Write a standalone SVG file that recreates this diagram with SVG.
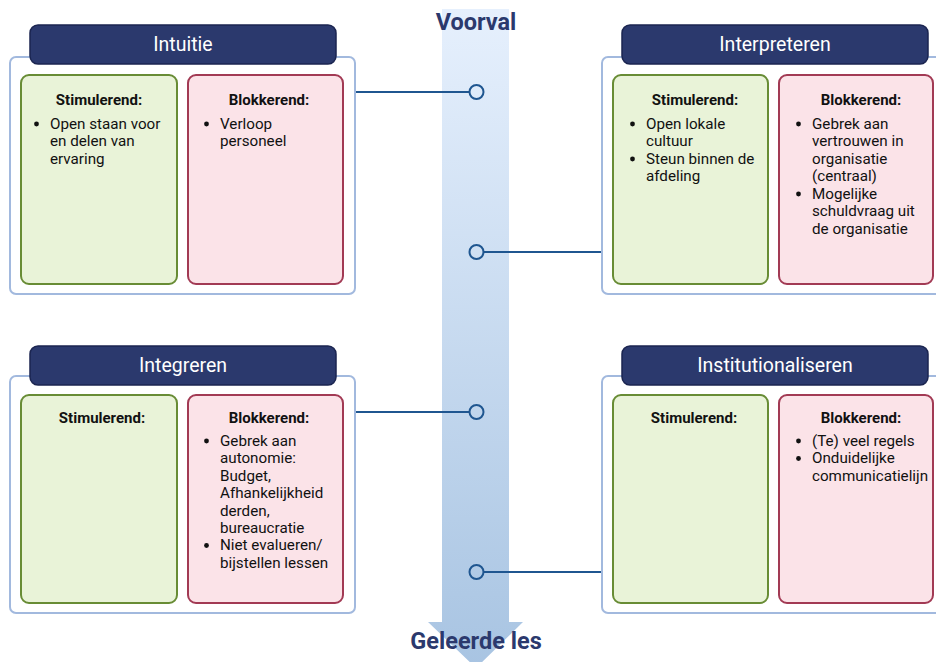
<svg xmlns="http://www.w3.org/2000/svg" width="936" height="662" viewBox="0 0 936 662">
<style>
.outer{fill:#fff;stroke:#a2b9de;stroke-width:2}
.hdr{fill:#2b396d;stroke:#1b2550;stroke-width:1.5}
.hdrt{fill:#fff;font-family:Roboto,"Liberation Sans",sans-serif;font-size:19.5px;text-anchor:middle}
.stim{fill:#e9f3d8;stroke:#688c35;stroke-width:2}
.blok{fill:#fbe3e8;stroke:#a23a54;stroke-width:2}
.h{font-family:Roboto,"Liberation Sans",sans-serif;font-size:15px;font-weight:bold;text-anchor:middle;fill:#111}
.t{font-family:Roboto,"Liberation Sans",sans-serif;font-size:15.2px;fill:#111}
.dot{fill:#111}
.big{font-family:Roboto,"Liberation Sans",sans-serif;font-size:23.5px;font-weight:bold;text-anchor:middle;fill:#2b396d}
.conn{stroke:#1f5690;stroke-width:2;fill:none}
</style>
<defs>
<linearGradient id="g" x1="0" y1="0" x2="0" y2="1">
<stop offset="0" stop-color="#e6f0fd"/>
<stop offset="1" stop-color="#a8c4e2"/>
</linearGradient>
</defs>
<g id="arrow">
<polygon points="442,9 509,9 509,622 523,622 476,668 428,622 442,622" fill="url(#g)"/>
<text class="big" x="476" y="30">Voorval</text>
<text class="big" x="476" y="649">Geleerde les</text>
</g>
<g id="connectors">
<line class="conn" x1="355" y1="92" x2="469" y2="92"/>
<circle class="conn" cx="476.5" cy="92" r="7"/>
<line class="conn" x1="484" y1="252" x2="602" y2="252"/>
<circle class="conn" cx="476.5" cy="252" r="7"/>
<line class="conn" x1="355" y1="412" x2="469" y2="412"/>
<circle class="conn" cx="476.5" cy="412" r="7"/>
<line class="conn" x1="484" y1="572" x2="602" y2="572"/>
<circle class="conn" cx="476.5" cy="572" r="7"/>
</g>
<g id="intuitie">
<rect class="outer" x="10" y="57" width="345" height="237" rx="6"/>
<rect class="hdr" x="30" y="25" width="306" height="39" rx="8"/>
<text class="hdrt" x="183" y="51">Intuitie</text>
<rect class="stim" x="21" y="75" width="156" height="209" rx="8"/>
<rect class="blok" x="188" y="75" width="155" height="209" rx="8"/>
<text class="h" x="99" y="105">Stimulerend:</text>
<circle class="dot" cx="36.5" cy="124" r="2.4"/>
<text class="t"><tspan x="50" y="129">Open staan voor</tspan><tspan x="50" y="146.4">en delen van</tspan><tspan x="50" y="163.8">ervaring</tspan></text>
<text class="h" x="269" y="105">Blokkerend:</text>
<circle class="dot" cx="206.5" cy="124" r="2.4"/>
<text class="t"><tspan x="220" y="129">Verloop</tspan><tspan x="220" y="146.4">personeel</tspan></text>
</g>
<g id="interpreteren">
<rect class="outer" x="602" y="57" width="345" height="237" rx="6"/>
<rect class="hdr" x="622" y="25" width="306" height="39" rx="8"/>
<text class="hdrt" x="775" y="51">Interpreteren</text>
<rect class="stim" x="613" y="75" width="155" height="209" rx="8"/>
<rect class="blok" x="779" y="75" width="154" height="209" rx="8"/>
<text class="h" x="695" y="105">Stimulerend:</text>
<circle class="dot" cx="632.5" cy="124" r="2.4"/>
<circle class="dot" cx="632.5" cy="159" r="2.4"/>
<text class="t"><tspan x="646" y="129">Open lokale</tspan><tspan x="646" y="146.4">cultuur</tspan><tspan x="646" y="164">Steun binnen de</tspan><tspan x="646" y="181.4">afdeling</tspan></text>
<text class="h" x="861" y="105">Blokkerend:</text>
<circle class="dot" cx="798.5" cy="124" r="2.4"/>
<circle class="dot" cx="798.5" cy="194" r="2.4"/>
<text class="t"><tspan x="812" y="129">Gebrek aan</tspan><tspan x="812" y="146.4">vertrouwen in</tspan><tspan x="812" y="163.8">organisatie</tspan><tspan x="812" y="181.2">(centraal)</tspan><tspan x="812" y="199">Mogelijke</tspan><tspan x="812" y="216.4">schuldvraag uit</tspan><tspan x="812" y="233.8">de organisatie</tspan></text>
</g>
<g id="integreren">
<rect class="outer" x="10" y="376" width="345" height="237" rx="6"/>
<rect class="hdr" x="30" y="346" width="306" height="39" rx="8"/>
<text class="hdrt" x="183" y="372">Integreren</text>
<rect class="stim" x="21" y="395" width="156" height="208" rx="8"/>
<rect class="blok" x="188" y="395" width="155" height="208" rx="8"/>
<text class="h" x="102" y="423">Stimulerend:</text>
<text class="h" x="269" y="423">Blokkerend:</text>
<circle class="dot" cx="206.5" cy="441" r="2.4"/>
<circle class="dot" cx="206.5" cy="545.5" r="2.4"/>
<text class="t"><tspan x="220" y="446">Gebrek aan</tspan><tspan x="220" y="463.4">autonomie:</tspan><tspan x="220" y="480.8">Budget,</tspan><tspan x="220" y="498.2">Afhankelijkheid</tspan><tspan x="220" y="515.6">derden,</tspan><tspan x="220" y="533">bureaucratie</tspan><tspan x="220" y="550.4">Niet evalueren/</tspan><tspan x="220" y="567.8">bijstellen lessen</tspan></text>
</g>
<g id="institutionaliseren">
<rect class="outer" x="602" y="376" width="345" height="237" rx="6"/>
<rect class="hdr" x="622" y="346" width="306" height="39" rx="8"/>
<text class="hdrt" x="775" y="372">Institutionaliseren</text>
<rect class="stim" x="613" y="395" width="155" height="208" rx="8"/>
<rect class="blok" x="779" y="395" width="154" height="208" rx="8"/>
<text class="h" x="694" y="423">Stimulerend:</text>
<text class="h" x="861" y="423">Blokkerend:</text>
<circle class="dot" cx="798.5" cy="441" r="2.4"/>
<circle class="dot" cx="798.5" cy="458.5" r="2.4"/>
<text class="t"><tspan x="812" y="446">(Te) veel regels</tspan><tspan x="812" y="463.4">Onduidelijke</tspan><tspan x="812" y="480.8">communicatielijn</tspan></text>
</g>
</svg>
